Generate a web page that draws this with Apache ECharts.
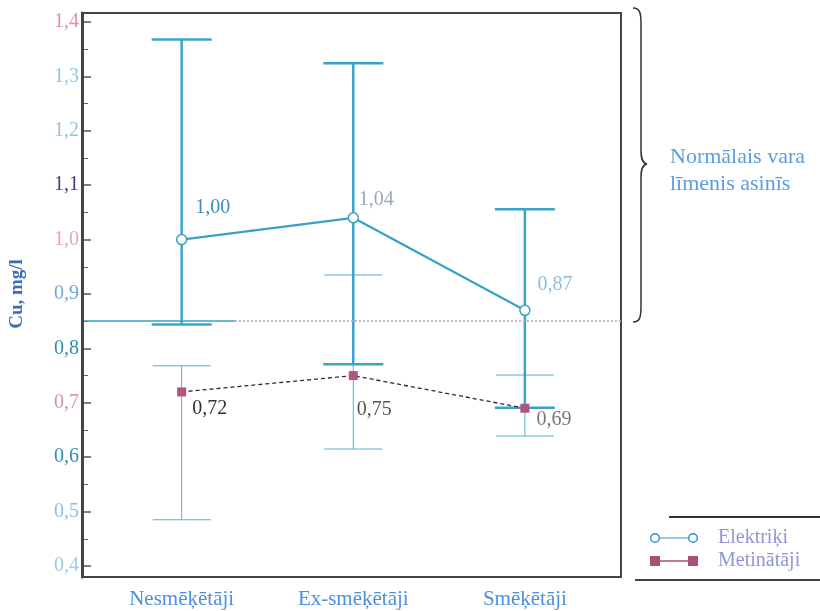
<!DOCTYPE html>
<html><head><meta charset="utf-8">
<script src="https://cdn.jsdelivr.net/npm/echarts@6/dist/echarts.min.js"></script>
<style>html,body{margin:0;padding:0;background:#fff}#c{width:820px;height:611px}</style>
</head><body><div id="c"></div>
<script>
// ---- data ----
const categories = ['Nesmēķētāji', 'Ex-smēķētāji', 'Smēķētāji'];
const seriesNames = ['Elektriķi', 'Metinātāji'];
const elektrikiMean = [1.00, 1.04, 0.87];
const elektrikiLow = [0.844, 0.771, 0.691];
const elektrikiHigh = [1.368, 1.324, 1.056];
const metinatajiMean = [0.72, 0.75, 0.69];
const metinatajiLow = [0.485, 0.615, 0.639];
const metinatajiHigh = [0.768, 0.935, 0.751];
const yMin = 0.4, yMax = 1.4, yStep = 0.1;
const normalLevel = 0.85;
const yAxisName = 'Cu, mg/l';
const normalText = ['Normālais vara', 'līmenis asinīs'];

// ---- styles ----
const SERIF = '"Liberation Serif","DejaVu Serif",serif';
const teal = '#38a2c6';
const errColor = '#3aa3c8';
const tickColors = ['#9ccbea', '#8cc0e8', '#2f8fb4', '#d592b8', '#2f8fb4', '#6aa8e0', '#e6a2c4', '#3b3f7a', '#93c6d8', '#93c6d8', '#e58cb4'];
const rich = {};
tickColors.forEach((c, i) => { rich['t' + i] = { color: c, fontFamily: SERIF, fontSize: 20 }; });
const fmt2 = v => v.toFixed(2).replace('.', ',');

const xLo = -0.569, xHi = 2.56;
const elLabel = [
  { offset: [31, -32], color: '#3b8fc0' },
  { offset: [23, -18], color: '#9aa8b8' },
  { offset: [30, -26], color: '#8fbcd8' }
];
const meLabel = [
  { offset: [28, 17], color: '#333' },
  { offset: [21, 34], color: '#555' },
  { offset: [29, 12], color: '#777' }
];

function errRender(lineW, halfW, color) {
  return function (params, api) {
    const x = api.value(0), lo = api.value(1), hi = api.value(2);
    const a = api.coord([x, hi]), b = api.coord([x, lo]);
    const style = { stroke: color, lineWidth: lineW, fill: null };
    return { type: 'group', children: [
      { type: 'line', shape: { x1: a[0], y1: a[1], x2: b[0], y2: b[1] }, style },
      { type: 'line', shape: { x1: a[0] - halfW, y1: a[1], x2: a[0] + halfW, y2: a[1] }, style },
      { type: 'line', shape: { x1: b[0] - halfW, y1: b[1], x2: b[0] + halfW, y2: b[1] }, style }
    ] };
  };
}

const ringIcon = 'path://M0,6A5,5 0 1,0 10,6A5,5 0 1,0 0,6Z M1.4,6A3.6,3.6 0 1,1 8.6,6A3.6,3.6 0 1,1 1.4,6Z M10,5.4L38,5.4L38,6.6L10,6.6Z M38,6A5,5 0 1,0 48,6A5,5 0 1,0 38,6Z M39.4,6A3.6,3.6 0 1,1 46.6,6A3.6,3.6 0 1,1 39.4,6Z';
const squareIcon = 'path://M0,1L10,1L10,11L0,11Z M10,5.3L38,5.3L38,6.7L10,6.7Z M38,1L48,1L48,11L38,11Z';

const braceStyle = { stroke: '#333', lineWidth: 1.5, fill: null };
const chart = echarts.init(document.getElementById('c'), null, { renderer: 'canvas' });
const option = {
  backgroundColor: '#fff',
  animation: false,
  grid: [
    { left: 82, right: 199, top: 22, bottom: 45 },
    { left: 82, right: 199, top: 13, bottom: 34, show: true, borderColor: '#444', borderWidth: 2, backgroundColor: 'transparent' }
  ],
  xAxis: [
    { type: 'value', gridIndex: 0, min: xLo, max: xHi,
      axisLine: { show: false, onZero: false }, axisTick: { show: false }, splitLine: { show: false },
      axisLabel: { customValues: categories.map((c, i) => i), formatter: v => categories[Math.round(v)] || '',
        margin: 23, fontFamily: SERIF, fontSize: 21, color: '#4a90e0' } },
    { type: 'value', gridIndex: 1, show: false, min: 0, max: 1 }
  ],
  yAxis: [
    { type: 'value', gridIndex: 0, min: yMin, max: yMax, interval: yStep,
      name: yAxisName, nameLocation: 'middle', nameRotate: 90, nameGap: 57,
      nameTextStyle: { fontFamily: SERIF, fontSize: 19, fontWeight: 'bold', color: '#3a6db5' },
      axisLine: { show: false, onZero: false },
      axisTick: { show: true, inside: true, length: 7, lineStyle: { color: '#555', width: 1.5 } },
      minorTick: { show: true, splitNumber: 2, length: 4, lineStyle: { color: '#666', width: 1 } },
      splitLine: { show: false },
      axisLabel: { margin: 5, formatter: v => { const i = Math.round((v - yMin) / yStep); return '{t' + i + '|' + v.toFixed(1).replace('.', ',') + '}'; }, rich } },
    { type: 'value', gridIndex: 1, min: 0, max: 1,
      axisLine: { show: true, onZero: false, lineStyle: { color: '#444', width: 3 } },
      axisTick: { show: false }, axisLabel: { show: false }, splitLine: { show: false } }
  ],
  legend: {
    orient: 'vertical', left: 645, top: 523, itemWidth: 48, itemHeight: 12, itemGap: 3,
    textStyle: { fontFamily: SERIF, fontSize: 20, color: '#8f96d2', padding: [0, 0, 0, 15] },
    data: [
      { name: seriesNames[0], icon: ringIcon, itemStyle: { color: '#2f8fd0', borderWidth: 0 } },
      { name: seriesNames[1], icon: squareIcon, itemStyle: { color: '#a8507a', borderWidth: 0 } }
    ]
  },
  series: [
    { type: 'custom', name: 'errM', xAxisIndex: 0, yAxisIndex: 0, silent: true,
      renderItem: errRender(1, 29, '#55b0d2'),
      encode: { x: 0, y: [1, 2] },
      data: metinatajiMean.map((m, i) => [i, metinatajiLow[i], metinatajiHigh[i]]), z: 1 },
    { type: 'custom', name: 'errE', xAxisIndex: 0, yAxisIndex: 0, silent: true,
      renderItem: errRender(2.5, 30, errColor),
      encode: { x: 0, y: [1, 2] },
      data: elektrikiMean.map((m, i) => [i, elektrikiLow[i], elektrikiHigh[i]]), z: 2 },
    { type: 'line', name: seriesNames[1], xAxisIndex: 0, yAxisIndex: 0, z: 3,
      symbol: 'rect', symbolSize: 9, color: '#a8507a',
      itemStyle: { color: '#b0557f' },
      lineStyle: { color: '#3a2530', width: 1.3, type: [4, 3] },
      label: { show: true, position: 'inside', fontFamily: SERIF, fontSize: 20 },
      data: metinatajiMean.map((v, i) => ({ value: [i, v],
        label: { offset: meLabel[i].offset, color: meLabel[i].color, formatter: p => fmt2(p.value[1]) } })),
      markLine: { silent: true, symbol: 'none', label: { show: false },
        data: [
          [{ coord: [xLo, normalLevel], lineStyle: { color: teal, width: 1.5, type: 'solid' } }, { coord: [0.31, normalLevel] }],
          [{ coord: [0.31, normalLevel], lineStyle: { color: '#c4b4c2', width: 2, type: [2, 2] } }, { coord: [xHi, normalLevel] }]
        ] } },
    { type: 'line', name: seriesNames[0], xAxisIndex: 0, yAxisIndex: 0, z: 4,
      symbol: 'circle', symbolSize: 10, color: teal,
      itemStyle: { color: '#fff', borderColor: teal, borderWidth: 1.5 },
      lineStyle: { color: teal, width: 2.2 },
      label: { show: true, position: 'inside', fontFamily: SERIF, fontSize: 20 },
      data: elektrikiMean.map((v, i) => ({ value: [i, v],
        label: { offset: elLabel[i].offset, color: elLabel[i].color, formatter: p => fmt2(p.value[1]) } })) }
  ],
  graphic: [
    { type: 'bezierCurve', silent: true, shape: { x1: 633, y1: 8, cpx1: 640, cpy1: 8, cpx2: 641, cpy2: 13, x2: 641, y2: 24 }, style: braceStyle },
    { type: 'line', silent: true, shape: { x1: 641, y1: 24, x2: 641, y2: 150 }, style: braceStyle },
    { type: 'bezierCurve', silent: true, shape: { x1: 641, y1: 150, cpx1: 641, cpy1: 158, cpx2: 642, cpy2: 163, x2: 647, y2: 164 }, style: braceStyle },
    { type: 'bezierCurve', silent: true, shape: { x1: 647, y1: 164, cpx1: 642, cpy1: 165, cpx2: 641, cpy2: 170, x2: 641, y2: 178 }, style: braceStyle },
    { type: 'line', silent: true, shape: { x1: 641, y1: 178, x2: 641, y2: 306 }, style: braceStyle },
    { type: 'bezierCurve', silent: true, shape: { x1: 641, y1: 306, cpx1: 641, cpy1: 317, cpx2: 640, cpy2: 322, x2: 633, y2: 322 }, style: braceStyle },
    { type: 'text', left: 670, top: 146, style: { text: normalText[0], font: '22px ' + SERIF, fill: '#5a9ee0' } },
    { type: 'text', left: 670, top: 173, style: { text: normalText[1], font: '22px ' + SERIF, fill: '#5a9ee0' } },
    { type: 'line', silent: true, shape: { x1: 669, y1: 517, x2: 820, y2: 517 }, style: { stroke: '#333', lineWidth: 2 } },
    { type: 'line', silent: true, shape: { x1: 635, y1: 580, x2: 820, y2: 580 }, style: { stroke: '#444', lineWidth: 2 } }
  ]
};
chart.setOption(option);
</script>
</body></html>
